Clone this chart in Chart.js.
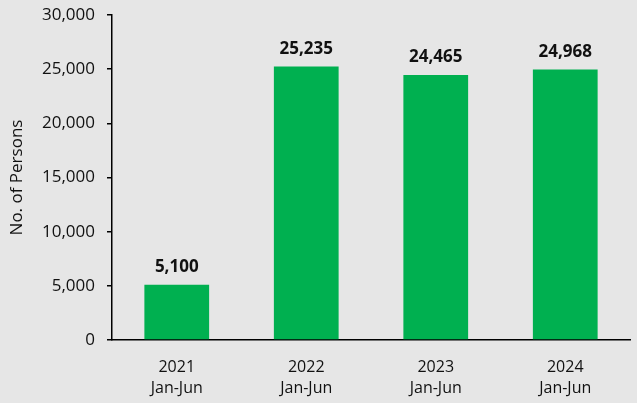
<!DOCTYPE html>
<html>
<head>
<meta charset="utf-8">
<script src="https://cdn.jsdelivr.net/npm/chart.js@4"></script>
<style>
  html, body { margin: 0; padding: 0; background: #e6e6e6; }
  #wrap { width: 637px; height: 403px; }
</style>
</head>
<body>
<div id="wrap"><canvas id="persons" width="637" height="403"></canvas></div>
<script>
/* Half-year totals, Jan-Jun */
const YEARS   = ['2021', '2022', '2023', '2024'];
const PERIOD  = 'Jan-Jun';
const PERSONS = [5100, 25235, 24465, 24968];

const Y_MAX  = 30000;
const Y_STEP = 5000;

const BAR_COLOR = '#00b050';
const FONT      = "'Open Sans', sans-serif";

/* Bold value above each bar */
const valueLabels = {
  id: 'valueLabels',
  afterDatasetsDraw(chart) {
    const ctx  = chart.ctx;
    const meta = chart.getDatasetMeta(0);
    ctx.save();
    ctx.font = 'bold 17px ' + FONT;
    ctx.fillStyle = '#111';
    ctx.textAlign = 'center';
    ctx.textBaseline = 'bottom';
    meta.data.forEach((bar, i) => {
      ctx.fillText(PERSONS[i].toLocaleString('en-US'), bar.x, bar.y - 9);
    });
    ctx.restore();
  },
};

new Chart(document.getElementById('persons'), {
  type: 'bar',
  data: {
    labels: YEARS.map(y => [y, PERIOD]),
    datasets: [{
      data:            PERSONS,
      backgroundColor: BAR_COLOR,
      barPercentage:   0.5,
      categoryPercentage: 1,
    }],
  },
  options: {
    responsive: false,
    animation:  false,
    layout: { padding: { top: 15, right: 7, left: 0, bottom: 0 } },
    plugins: {
      legend:  { display: false },
      tooltip: { enabled: false },
    },
    scales: {
      x: {
        grid:   { drawOnChartArea: false, drawTicks: false },
        border: { color: '#000', width: 1.5 },
        ticks:  { color: '#111', font: { family: FONT, size: 16, lineHeight: 1.3 }, padding: 17 },
        afterFit: s => { s.height = 63; },
      },
      y: {
        min: 0,
        max: Y_MAX,
        ticks: {
          stepSize: Y_STEP,
          color:    '#111',
          font:     { family: FONT, size: 17 },
          padding:  12,
          callback: v => v.toLocaleString('en-US'),
        },
        grid:   { drawOnChartArea: false, drawTicks: true, tickLength: 5, color: '#000', lineWidth: 1.5 },
        border: { color: '#000', width: 1.5 },
        title: {
          display: true,
          text:    'No. of Persons',
          color:   '#111',
          font:    { family: FONT, size: 17 },
          padding: { top: 7, bottom: 0 },
        },
        afterFit: s => { s.width = 112; s.paddingTop = 0; s.paddingBottom = 0; },
      },
    },
  },
  plugins: [valueLabels],
});
</script>
</body>
</html>
